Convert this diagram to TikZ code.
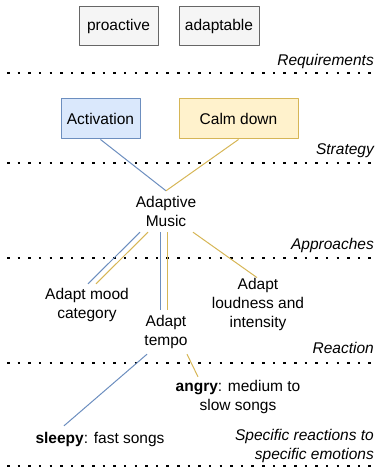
\documentclass[tikz,border=0pt]{standalone}
\usepackage{fontspec}
\setmainfont{Liberation Sans}
\definecolor{blueline}{HTML}{6C8EBF}
\definecolor{bluefill}{HTML}{DAE8FC}
\definecolor{yellowline}{HTML}{D6B656}
\definecolor{yellowfill}{HTML}{FFF2CC}
\definecolor{greyline}{HTML}{666666}
\definecolor{greyfill}{HTML}{F5F5F5}
\begin{document}
\begin{tikzpicture}[line join=bevel,
  every node/.style={font=\fontsize{15.5bp}{19bp}\selectfont},
  reqbox/.style={draw=greyline,fill=greyfill,line width=1bp,minimum height=39bp,inner sep=0pt},
  bluebox/.style={draw=blueline,fill=bluefill,line width=1bp,minimum height=40bp,inner sep=0pt},
  yellowbox/.style={draw=yellowline,fill=yellowfill,line width=1bp,minimum height=40bp,inner sep=0pt},
  txt/.style={align=center,inner sep=0pt},
  level/.style={anchor=east,align=right,inner sep=0pt,font=\fontsize{15.5bp}{19bp}\selectfont\itshape},
  sep/.style={line width=2.5bp,dash pattern=on 2.5bp off 8.13bp},
  bl/.style={blueline,line width=1bp},
  yl/.style={yellowline,line width=1bp},
]
\useasboundingbox (0bp,0bp) rectangle (375bp,470bp);
%%
\node (node_proactive) at (118.5bp,443.5bp) [reqbox,minimum width=79bp] {proactive};
  \node (node_adaptable) at (219bp,443.5bp) [reqbox,minimum width=80bp] {adaptable};
  \node (node_activation) at (100.5bp,351bp) [bluebox,minimum width=79bp] {Activation};
  \node (node_calm) at (238.5bp,351bp) [yellowbox,minimum width=119bp] {Calm down};
  \node (node_music) at (166bp,258.5bp) [txt,minimum width=80bp,minimum height=41bp] {Adaptive\\Music};
  \node (node_mood) at (87bp,165.5bp) [txt,minimum height=41bp] {Adapt mood\\category};
  \node (node_tempo) at (166bp,138bp) [txt,minimum height=44bp] {Adapt\\tempo};
  \node (node_loud) at (258bp,166bp) [txt,minimum height=46bp] {Adapt\\loudness and\\intensity};
  \node (node_angry) at (238bp,73bp) [txt,minimum height=40bp] {\textbf{angry}: medium to\\slow songs};
  \node (node_sleepy) at (100bp,31bp) [txt,minimum height=26bp] {\textbf{sleepy}: fast songs};
  \node (lvl_req) at (374bp,409bp) [level] {Requirements};
  \node (lvl_strat) at (374bp,319bp) [level] {Strategy};
  \node (lvl_appr) at (374bp,225bp) [level] {Approaches};
  \node (lvl_react) at (374bp,122bp) [level] {Reaction};
  \node (lvl_spec) at (374bp,24bp) [level] {Specific reactions to\\specific emotions};
  \draw [sep] (7bp,397bp) -- (371bp,397bp);
  \draw [sep] (7bp,307bp) -- (371bp,307bp);
  \draw [sep] (7bp,212bp) -- (371bp,212bp);
  \draw [sep] (7bp,107bp) -- (371bp,107bp);
  \draw [sep] (7bp,4bp) -- (371bp,4bp);
  \draw [bl] (node_activation.south) -- (node_music.north);
  \draw [yl] (node_calm.south) -- (node_music.north);
  \draw [bl] ([xshift=-26bp]node_music.south) -- ([xshift=1bp]node_mood.north);
  \draw [yl] ([xshift=-18bp]node_music.south) -- ([xshift=9bp]node_mood.north);
  \draw [bl] ([xshift=-6bp]node_music.south) -- ([xshift=-6bp]node_tempo.north);
  \draw [yl] ([xshift=1bp]node_music.south) -- ([xshift=1bp]node_tempo.north);
  \draw [yl] ([xshift=27bp]node_music.south) -- ([xshift=-1bp]node_loud.north);
  \draw [bl] ([xshift=-19bp]node_tempo.south) -- ([xshift=-36bp]node_sleepy.north);
  \draw [yl] ([xshift=21bp]node_tempo.south) -- ([xshift=-40bp]node_angry.north);
%
\end{tikzpicture}
\end{document}
